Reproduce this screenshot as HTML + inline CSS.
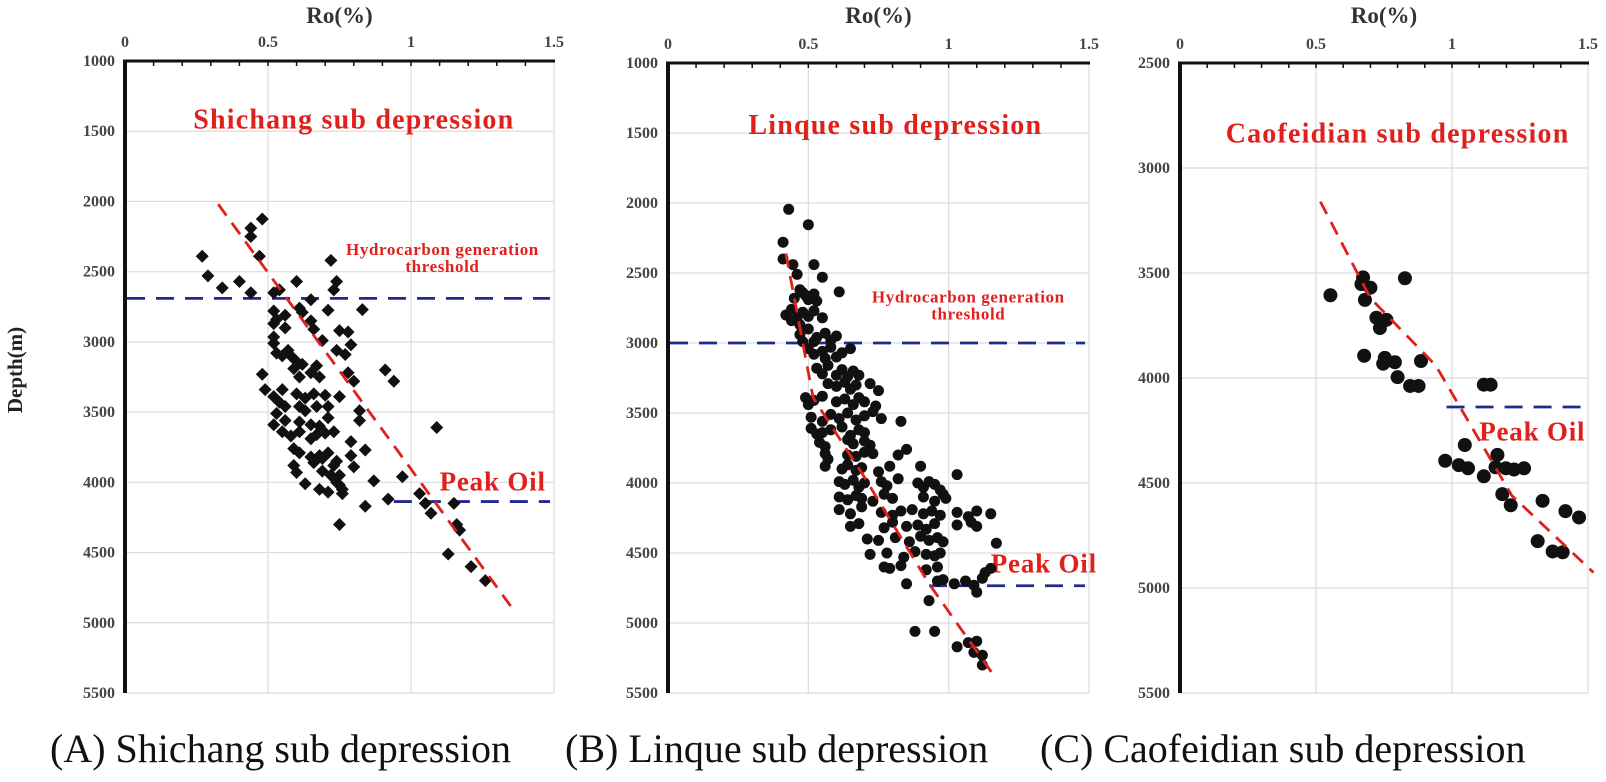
<!DOCTYPE html>
<html><head><meta charset="utf-8"><style>
html,body{margin:0;padding:0;background:#fff;}
svg{display:block;}
text{font-family:"Liberation Serif",serif;}
</style></head><body>
<svg id="fig" width="1606" height="782" viewBox="0 0 1606 782" xmlns="http://www.w3.org/2000/svg">
<text transform="translate(22,370) rotate(-90)" text-anchor="middle" font-size="21" font-weight="bold" fill="#222">Depth(m)</text>
<text x="50" y="762" font-size="40" fill="#111">(A) Shichang sub depression</text>
<text x="565" y="762" font-size="40" fill="#111">(B) Linque sub depression</text>
<text x="1040" y="762" font-size="40" fill="#111">(C) Caofeidian sub depression</text>
</svg>
<script>
// Panel A data
const aRo = [0.48,0.44,0.44,0.47,0.27,0.29,0.34,0.40,0.44,0.72,0.74,0.73,0.60,0.54,0.52,0.65,0.71,0.83,0.61,0.62,0.52,0.53,0.56,0.52,0.52,0.56,0.65,0.66,0.75,0.78,0.79,0.69,0.52,0.55,0.53,0.57,0.58,0.60,0.74,0.77,0.59,0.62,0.65,0.61,0.67,0.68,0.78,0.80,0.91,0.94,0.48,0.49,0.52,0.54,0.55,0.56,0.60,0.63,0.66,0.70,0.75,0.61,0.63,0.67,0.71,0.53,0.56,0.61,0.65,0.68,0.71,0.82,0.82,0.52,0.55,0.58,0.61,0.65,0.67,0.70,0.73,0.79,0.84,0.59,0.61,0.65,0.68,0.71,0.74,0.79,0.80,1.09,0.59,0.66,0.69,0.73,0.69,0.72,0.75,0.60,0.63,0.74,0.76,0.76,0.75,0.68,0.71,0.87,0.97,0.84,0.92,0.75,1.03,1.05,1.07,1.15,1.16,1.17,1.13,1.21,1.26];
const aDepth = [2125,2190,2250,2390,2390,2530,2615,2570,2650,2420,2570,2630,2570,2630,2650,2700,2775,2770,2760,2790,2780,2840,2810,2870,2965,2900,2850,2910,2920,2930,3020,2990,3010,3100,3080,3060,3100,3140,3060,3090,3190,3160,3220,3250,3170,3250,3220,3280,3200,3280,3230,3340,3390,3430,3340,3460,3370,3400,3370,3380,3390,3460,3490,3460,3460,3510,3560,3570,3590,3600,3540,3490,3560,3590,3640,3670,3640,3690,3660,3650,3640,3710,3770,3760,3790,3820,3810,3790,3850,3810,3890,3610,3880,3860,3830,3880,3920,3950,3950,3930,4010,4000,4050,4080,4020,4050,4070,3990,3960,4170,4120,4300,4080,4150,4220,4150,4300,4340,4510,4600,4700];
const aFitRo = [0.326,1.366];
const aFitDepth = [2020,4930];
// Panel B data
const bRo = [0.43,0.50,0.41,0.41,0.445,0.52,0.46,0.55,0.61,0.47,0.49,0.50,0.52,0.53,0.45,0.48,0.42,0.44,0.46,0.48,0.50,0.52,0.55,0.44,0.47,0.47,0.50,0.53,0.56,0.58,0.60,0.52,0.48,0.50,0.52,0.55,0.58,0.60,0.62,0.65,0.56,0.53,0.55,0.57,0.60,0.62,0.64,0.66,0.68,0.57,0.60,0.63,0.65,0.67,0.72,0.75,0.49,0.50,0.52,0.55,0.60,0.63,0.66,0.68,0.70,0.74,0.51,0.55,0.58,0.61,0.64,0.67,0.70,0.73,0.76,0.83,0.51,0.53,0.55,0.58,0.62,0.65,0.68,0.70,0.54,0.56,0.64,0.66,0.70,0.72,0.56,0.57,0.64,0.67,0.70,0.73,0.82,0.85,0.56,0.62,0.64,0.67,0.69,0.75,0.79,0.90,0.61,0.63,0.66,0.68,0.70,0.76,0.78,0.82,0.89,0.91,0.93,0.95,0.97,1.03,0.61,0.64,0.67,0.69,0.73,0.77,0.80,0.91,0.95,0.98,0.99,0.61,0.65,0.69,0.76,0.80,0.83,0.87,0.91,0.94,0.97,1.03,1.07,1.10,1.15,0.65,0.68,0.77,0.80,0.85,0.89,0.92,0.95,1.03,1.08,1.10,0.71,0.75,0.81,0.86,0.90,0.93,0.96,0.98,1.17,0.72,0.78,0.84,0.88,0.92,0.95,0.97,0.77,0.79,0.83,0.92,0.96,1.13,1.15,0.85,0.96,0.98,1.02,1.06,1.09,1.12,0.93,1.10,0.88,0.95,1.03,1.07,1.10,1.09,1.12,1.12];
const bDepth = [2045,2155,2280,2400,2440,2440,2510,2530,2635,2620,2660,2690,2650,2700,2680,2640,2800,2760,2820,2780,2810,2770,2820,2840,2870,2940,2900,2960,2930,2980,2950,2990,2990,3040,3080,3060,3030,3100,3070,3040,3110,3180,3220,3160,3230,3190,3240,3200,3230,3290,3310,3280,3330,3300,3290,3340,3390,3440,3410,3380,3420,3400,3440,3390,3420,3450,3530,3560,3510,3540,3500,3550,3520,3490,3540,3560,3610,3650,3640,3620,3600,3660,3620,3640,3710,3740,3690,3720,3700,3730,3790,3830,3800,3810,3780,3790,3800,3760,3880,3900,3870,3910,3890,3920,3880,3880,3990,4010,3980,4030,4000,3990,4020,3970,4000,4030,3990,4010,4050,3940,4100,4120,4090,4110,4130,4080,4110,4100,4130,4080,4110,4190,4220,4170,4210,4230,4200,4190,4220,4200,4230,4210,4240,4200,4220,4310,4290,4320,4280,4310,4300,4330,4290,4300,4280,4310,4400,4410,4390,4420,4380,4410,4390,4420,4430,4510,4500,4530,4490,4510,4520,4500,4600,4610,4590,4620,4600,4640,4610,4720,4700,4690,4720,4700,4730,4680,4840,4780,5060,5060,5170,5140,5130,5210,5230,5300];
const bFitRo = [0.42,0.517,0.695,0.93,1.17];
const bFitDepth = [2360,3390,3943,4720,5400];
// Panel C data
const cRo = [0.553,0.673,0.667,0.70,0.827,0.68,0.722,0.759,0.735,0.677,0.753,0.747,0.79,0.886,0.80,0.846,0.877,1.117,1.142,1.047,0.975,1.025,1.059,1.117,1.167,1.16,1.198,1.228,1.265,1.185,1.216,1.333,1.417,1.467,1.315,1.37,1.407];
const cDepth = [3606,3521,3553,3570,3525,3628,3713,3723,3762,3894,3904,3932,3925,3919,3996,4038,4038,4032,4032,4319,4394,4415,4430,4468,4366,4425,4430,4436,4430,4553,4606,4585,4634,4664,4777,4826,4830];
const cFitRo = [0.516,0.70,0.94,1.22,1.52];
const cFitDepth = [3160,3620,3940,4560,4926];
// Axis tick values
const roTicks = [0,0.5,1,1.5];
const depthTicksAB = [1000,1500,2000,2500,3000,3500,4000,4500,5000,5500];
const depthTicksC = [2500,3000,3500,4000,4500,5000,5500];
// Reference lines (depths)
const aThreshold = 2690, aPeak = 4137, aPeakStart = 0.94;
const bThreshold = 3000, bPeak = 4734, bPeakStart = 0.93;
const cPeak = 4138, cPeakStart = 0.98;

const svg = document.getElementById('fig');
const NS = 'http://www.w3.org/2000/svg';
function mk(tag, attrs, parent){
  const e = document.createElementNS(NS, tag);
  for (const k in attrs) e.setAttribute(k, attrs[k]);
  (parent||svg).appendChild(e);
  return e;
}
function panel(cfg){
  const g = mk('g', {});
  
  
  const xs = v => cfg.L + v / 1.5 * (cfg.R - cfg.L);
  const ys = d => cfg.T + (d - cfg.d0) / (cfg.d1 - cfg.d0) * (cfg.B - cfg.T);
  roTicks.forEach(v => {
    const l = mk('line', {x1:xs(v), x2:xs(v), y1:cfg.T, y2:cfg.B, stroke:'#dcdcdc', 'stroke-width':1.2}, g);
    
    
    const t = mk('text', {x:xs(v), y:cfg.T-14, 'text-anchor':'middle', 'font-size':16, 'font-weight':'bold', fill:'#444'}, g);
    t.textContent = String(v);
    
    
  });
  cfg.dticks.forEach(d => {
    const l = mk('line', {x1:cfg.L, x2:cfg.R, y1:ys(d), y2:ys(d), stroke:'#dcdcdc', 'stroke-width':1.2}, g);
    
    
    const t = mk('text', {x:cfg.L-10, y:ys(d)+5, 'text-anchor':'end', 'font-size':16, 'font-weight':'bold', fill:'#444'}, g);
    t.textContent = String(d);
    
    
  });
  for (let i = 1; i < 15; i++) {
    const tk = mk('line', {x1:xs(i/10), x2:xs(i/10), y1:cfg.T, y2:cfg.T+5, stroke:'#111', 'stroke-width':1.5}, g);
    
    
  }
  const top = mk('line', {x1:cfg.L-2, x2:cfg.R+1, y1:cfg.T, y2:cfg.T, stroke:'#111', 'stroke-width':3}, g);
  
  
  const left = mk('line', {x1:cfg.L, x2:cfg.L, y1:cfg.T-1, y2:cfg.B, stroke:'#111', 'stroke-width':4}, g);
  
  
  const xt = mk('text', {x:(cfg.L+cfg.R)/2, y:23, 'text-anchor':'middle', 'font-size':23, 'font-weight':'bold', fill:'#333'}, g);
  xt.textContent = 'Ro(%)';
  
  
  const tt = mk('text', {x:xs(cfg.title[1]), y:ys(cfg.title[2])+10, 'text-anchor':'middle', 'font-size':28, 'font-weight':'bold', 'letter-spacing':'1.2', fill:'#e0201c'}, g);
  tt.textContent = cfg.title[0];
  
  
  if (cfg.thr !== undefined) {
    const l = mk('line', {x1:cfg.L+2, x2:cfg.R-4, y1:ys(cfg.thr), y2:ys(cfg.thr), stroke:'#1f2a8c', 'stroke-width':2.8, 'stroke-dasharray':'18 11'}, g);
    
    
    const t1 = mk('text', {x:xs(cfg.thrLabel[0]), y:ys(cfg.thrLabel[1]), 'text-anchor':'middle', 'font-size':17, 'font-weight':'bold', 'letter-spacing':'0.6', fill:'#e0201c'}, g);
    t1.textContent = 'Hydrocarbon generation';
    
    
    const t2 = mk('text', {x:xs(cfg.thrLabel[0]), y:ys(cfg.thrLabel[1])+17, 'text-anchor':'middle', 'font-size':17, 'font-weight':'bold', 'letter-spacing':'0.6', fill:'#e0201c'}, g);
    t2.textContent = 'threshold';
    
    
  }
  const pk = mk('line', {x1:xs(cfg.peakStart), x2:cfg.R-4, y1:ys(cfg.peak), y2:ys(cfg.peak), stroke:'#1f2a8c', 'stroke-width':2.8, 'stroke-dasharray':'18 11'}, g);
  
  
  const pt = mk('text', {x:xs(cfg.peakLabel[0]), y:ys(cfg.peakLabel[1])+9, 'text-anchor':'start', 'font-size':27, 'font-weight':'bold', 'letter-spacing':'0.8', fill:'#e0201c'}, g);
  pt.textContent = 'Peak Oil';
  
  
  cfg.ro.forEach((v, i) => {
    const x = xs(v), y = ys(cfg.depth[i]);
    let m;
    if (cfg.marker === 'diamond') {
      const s = 6.5;
      m = mk('polygon', {points:`${x},${y-s} ${x+s},${y} ${x},${y+s} ${x-s},${y}`, fill:'#111'}, g);
    } else {
      m = mk('circle', {cx:x, cy:y, r:cfg.r, fill:'#111'}, g);
    }
    
    
  });
  const pts = cfg.fitRo.map((v, i) => xs(v) + ',' + ys(cfg.fitDepth[i])).join(' ');
  const fl = mk('polyline', {points:pts, fill:'none', stroke:'#e0201c', 'stroke-width':2.8, 'stroke-dasharray':'14 9'}, g);
  
  
}
panel({key:'shichang', L:125, R:554, T:61, B:693, d0:1000, d1:5500, dticks:depthTicksAB,
  title:['Shichang sub depression', 0.80, 1410], thr:aThreshold, thrLabel:[1.11, 2380],
  peak:aPeak, peakStart:aPeakStart, peakLabel:[1.10, 3995],
  ro:aRo, depth:aDepth, marker:'diamond', fitRo:aFitRo, fitDepth:aFitDepth});
panel({key:'linque', L:668, R:1089, T:63, B:693, d0:1000, d1:5500, dticks:depthTicksAB,
  title:['Linque sub depression', 0.81, 1437], thr:bThreshold, thrLabel:[1.07, 2710],
  peak:bPeak, peakStart:bPeakStart, peakLabel:[1.15, 4576],
  ro:bRo, depth:bDepth, marker:'circle', r:5.5, fitRo:bFitRo, fitDepth:bFitDepth});
panel({key:'caofeidian', L:1180, R:1588, T:63, B:693, d0:2500, d1:5500, dticks:depthTicksC,
  title:['Caofeidian sub depression', 0.80, 2830],
  peak:cPeak, peakStart:cPeakStart, peakLabel:[1.10, 4255],
  ro:cRo, depth:cDepth, marker:'circle', r:7, fitRo:cFitRo, fitDepth:cFitDepth});
</script>
</body></html>
